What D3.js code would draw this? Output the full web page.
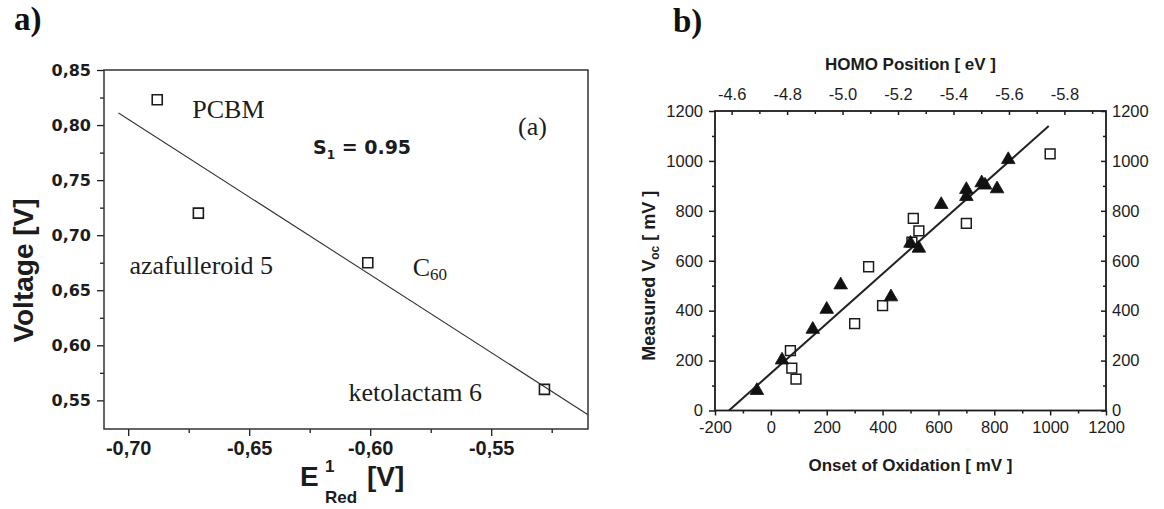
<!DOCTYPE html>
<html>
<head>
<meta charset="utf-8">
<script src="https://cdn.jsdelivr.net/npm/d3@7"></script>
<style>
  html, body { margin: 0; padding: 0; background: #fff; }
  svg { display: block; }
</style>
</head>
<body>
<div id="chart"></div>
<script>
// ---- panel a: Voc vs first reduction potential ----
const compoundNames = ["PCBM", "azafulleroid 5", "C60", "ketolactam 6"];
const reductionPotential = [-0.688, -0.671, -0.601, -0.528];
const openVoltage = [0.823, 0.720, 0.675, 0.560];
const fitAX = [-0.704, -0.51];
const fitAY = [0.811, 0.537];
const ticksAX = [-0.70, -0.65, -0.60, -0.55];
const minorAX = [-0.675, -0.625, -0.575, -0.525];
const ticksAY = [0.55, 0.60, 0.65, 0.70, 0.75, 0.80, 0.85];
const minorAY = [0.575, 0.625, 0.675, 0.725, 0.775, 0.825];

// ---- panel b: measured Voc vs onset of oxidation ----
const triOnset = [-50, 40, 150, 200, 250, 430, 500, 530, 610, 700, 700, 755, 767, 810, 850];
const triVoc = [80, 202, 325, 405, 503, 455, 670, 650, 825, 885, 857, 912, 903, 888, 1005];
const sqOnset = [70, 75, 90, 300, 350, 400, 505, 510, 530, 700, 1000];
const sqVoc = [240, 170, 126, 348, 576, 420, 675, 770, 720, 750, 1028];
const fitBX = [-150, 995];
const fitBY = [0, 1140];
const ticksBX = [-200, 0, 200, 400, 600, 800, 1000, 1200];
const minorBX = [-100, 100, 300, 500, 700, 900, 1100];
const ticksBY = [0, 200, 400, 600, 800, 1000, 1200];
const minorBY = [100, 300, 500, 700, 900, 1100];
const ticksHomo = [-4.6, -4.8, -5.0, -5.2, -5.4, -5.6, -5.8];
const minorHomo = [-4.7, -4.9, -5.1, -5.3, -5.5, -5.7, -5.9];

const WIDTH = 1164;
const HEIGHT = 509;
const INK = "#1c1c1c";

// label placement next to each marker in panel a (pixels from the marker)
const LABEL_OFFSETS = [[35, 18], [-69, 61], [45, 13], [-196, 12]];

const svg = d3.select("#chart")
    .append("svg")
    .attr("width", WIDTH)
    .attr("height", HEIGHT);

function plainAxis(g, width) {
    g.select(".domain").remove();
    g.attr("font-family", null).attr("font-size", null);
    g.selectAll("line").attr("stroke", INK).attr("stroke-width", width);
    g.selectAll("text").attr("fill", INK);
}

function drawPanelA() {
    const x = d3.scaleLinear().domain([-0.71, -0.51]).range([104, 588]);
    const y = d3.scaleLinear().domain([0.524, 0.85]).range([429, 70]);
    const comma = d => d.toFixed(2).replace(".", ",");
    const [x0, x1] = x.range();
    const [y0, y1] = y.range();

    svg.append("g")
        .attr("transform", `translate(${x0},0)`)
        .call(d3.axisLeft(y).tickValues(minorAY).tickSize(4).tickFormat(""))
        .call(g => plainAxis(g, 1.3));

    svg.append("g")
        .attr("transform", `translate(${x0},0)`)
        .call(d3.axisLeft(y).tickValues(ticksAY).tickSize(7).tickPadding(6).tickFormat(comma))
        .call(g => plainAxis(g, 1.3))
        .selectAll("text")
        .attr("font-family", "DejaVu Sans")
        .attr("font-weight", "bold")
        .attr("font-size", 16);

    svg.append("g")
        .attr("transform", `translate(0,${y0})`)
        .call(d3.axisBottom(x).tickValues(minorAX).tickSize(4).tickFormat(""))
        .call(g => plainAxis(g, 1.3));

    svg.append("g")
        .attr("transform", `translate(0,${y0})`)
        .call(d3.axisBottom(x).tickValues(ticksAX).tickSize(7).tickPadding(5).tickFormat(comma))
        .call(g => plainAxis(g, 1.3))
        .selectAll("text")
        .attr("font-family", "Liberation Sans")
        .attr("font-weight", "bold")
        .attr("font-size", 20);

    svg.append("rect")
        .attr("x", x0)
        .attr("y", y1)
        .attr("width", x1 - x0)
        .attr("height", y0 - y1)
        .attr("fill", "none")
        .attr("stroke", "#333")
        .attr("stroke-width", 1.5);

    svg.append("line")
        .attr("x1", x(fitAX[0]))
        .attr("y1", y(fitAY[0]))
        .attr("x2", x(fitAX[1]))
        .attr("y2", y(fitAY[1]))
        .attr("stroke", "#333")
        .attr("stroke-width", 1.1);

    const rows = compoundNames.map((name, i) => ({
        name, e: reductionPotential[i], v: openVoltage[i], off: LABEL_OFFSETS[i]
    }));

    svg.append("g")
        .selectAll("path")
        .data(rows)
        .enter()
        .append("path")
        .attr("transform", d => `translate(${x(d.e)},${y(d.v)})`)
        .attr("d", d3.symbol(d3.symbolSquare, 100))
        .attr("fill", "none")
        .attr("stroke", INK)
        .attr("stroke-width", 1.6);

    const labels = svg.append("g")
        .selectAll("text")
        .data(rows)
        .enter()
        .append("text")
        .attr("x", d => x(d.e) + d.off[0])
        .attr("y", d => y(d.v) + d.off[1])
        .attr("font-family", "Liberation Serif")
        .attr("font-size", 26)
        .attr("fill", INK);

    labels.each(function (d) {
        const m = d.name.match(/^C(\d+)$/);
        const t = d3.select(this);
        if (m) {
            t.append("tspan").text("C");
            t.append("tspan").attr("font-size", 17).attr("dy", 4).text(m[1]);
        } else {
            t.text(d.name);
        }
    });

    svg.append("text")
        .attr("x", x1 - 70)
        .attr("y", y1 + 65)
        .attr("font-family", "Liberation Serif")
        .attr("font-size", 26)
        .attr("fill", INK)
        .text("(a)");

    const s1 = svg.append("text")
        .attr("x", 313)
        .attr("y", y1 + 84)
        .attr("font-family", "DejaVu Sans")
        .attr("font-weight", "bold")
        .attr("font-size", 19)
        .attr("fill", INK);
    s1.append("tspan").text("S");
    s1.append("tspan").attr("font-size", 12).attr("dy", 5).text("1");
    s1.append("tspan").attr("dy", -5).text(" = 0.95");

    // axis titles
    svg.append("text")
        .attr("transform", `translate(33,${(y0 + y1) / 2 + 21}) rotate(-90)`)
        .attr("text-anchor", "middle")
        .attr("font-family", "Liberation Sans")
        .attr("font-weight", "bold")
        .attr("font-size", 28)
        .attr("fill", INK)
        .text("Voltage [V]");

    const cx = (x0 + x1) / 2;
    const title = svg.append("g")
        .attr("font-family", "Liberation Sans")
        .attr("font-weight", "bold")
        .attr("fill", INK);
    title.append("text").attr("x", cx - 46).attr("y", 486).attr("font-size", 28).text("E");
    title.append("text").attr("x", cx - 21).attr("y", 472).attr("font-size", 17).text("1");
    title.append("text").attr("x", cx - 21).attr("y", 503).attr("font-size", 17).text("Red");
    title.append("text").attr("x", cx + 21).attr("y", 486).attr("font-size", 28).text("[V]");

    svg.append("text")
        .attr("x", 14)
        .attr("y", 30)
        .attr("font-family", "Liberation Serif")
        .attr("font-weight", "bold")
        .attr("font-size", 33)
        .attr("fill", "#111")
        .text("a)");
}

function drawPanelB() {
    const x = d3.scaleLinear().domain([-200, 1200]).range([715, 1106]);
    const y = d3.scaleLinear().domain([0, 1200]).range([410.5, 111]);
    const homo = d3.scaleLinear().domain([-4.54, -5.95]).range([715, 1106]);
    const [x0, x1] = x.range();
    const [y0, y1] = y.range();
    const plainNumber = d => String(d);
    const tickFont = g => g.selectAll("text")
        .attr("font-family", "Liberation Sans")
        .attr("font-size", 16.5);

    // left
    svg.append("g").attr("transform", `translate(${x0},0)`)
        .call(d3.axisLeft(y).tickValues(minorBY).tickSize(3).tickFormat(""))
        .call(g => plainAxis(g, 1.5));
    svg.append("g").attr("transform", `translate(${x0},0)`)
        .call(d3.axisLeft(y).tickValues(ticksBY).tickSize(6).tickPadding(6).tickFormat(plainNumber))
        .call(g => plainAxis(g, 1.5))
        .call(tickFont);

    // right
    svg.append("g").attr("transform", `translate(${x1},0)`)
        .call(d3.axisRight(y).tickValues(minorBY).tickSize(-3).tickFormat(""))
        .call(g => plainAxis(g, 1.5));
    svg.append("g").attr("transform", `translate(${x1},0)`)
        .call(d3.axisRight(y).tickValues(ticksBY).tickSize(-5).tickPadding(6).tickFormat(plainNumber))
        .call(g => plainAxis(g, 1.5))
        .call(tickFont);

    // bottom
    svg.append("g").attr("transform", `translate(0,${y0})`)
        .call(d3.axisBottom(x).tickValues(minorBX).tickSize(3).tickFormat(""))
        .call(g => plainAxis(g, 1.5));
    svg.append("g").attr("transform", `translate(0,${y0})`)
        .call(d3.axisBottom(x).tickValues(ticksBX).tickSize(5).tickPadding(6).tickFormat(plainNumber))
        .call(g => plainAxis(g, 1.5))
        .call(tickFont);

    // top (HOMO position)
    svg.append("g").attr("transform", `translate(0,${y1})`)
        .call(d3.axisTop(homo).tickValues(minorHomo).tickSize(-3).tickFormat(""))
        .call(g => plainAxis(g, 1.5));
    svg.append("g").attr("transform", `translate(0,${y1})`)
        .call(d3.axisTop(homo).tickValues(ticksHomo).tickSize(-4).tickPadding(11).tickFormat(d => d.toFixed(1)))
        .call(g => plainAxis(g, 1.5))
        .call(tickFont);

    svg.append("rect")
        .attr("x", x0)
        .attr("y", y1)
        .attr("width", x1 - x0)
        .attr("height", y0 - y1)
        .attr("fill", "none")
        .attr("stroke", INK)
        .attr("stroke-width", 1.8);

    svg.append("line")
        .attr("x1", x(fitBX[0]))
        .attr("y1", y(fitBY[0]))
        .attr("x2", x(fitBX[1]))
        .attr("y2", y(fitBY[1]))
        .attr("stroke", "#222")
        .attr("stroke-width", 2);

    svg.append("g")
        .selectAll("path")
        .data(sqOnset.map((d, i) => [d, sqVoc[i]]))
        .enter()
        .append("path")
        .attr("transform", d => `translate(${x(d[0])},${y(d[1])})`)
        .attr("d", d3.symbol(d3.symbolSquare, 96))
        .attr("fill", "none")
        .attr("stroke", INK)
        .attr("stroke-width", 1.5);

    svg.append("g")
        .selectAll("path")
        .data(triOnset.map((d, i) => [d, triVoc[i]]))
        .enter()
        .append("path")
        .attr("transform", d => `translate(${x(d[0])},${y(d[1])})`)
        .attr("d", d3.symbol(d3.symbolTriangle, 80))
        .attr("fill", "#111")
        .attr("stroke", "#111")
        .attr("stroke-width", 0.8);

    const cx = (x0 + x1) / 2;
    svg.append("text")
        .attr("x", cx)
        .attr("y", 70)
        .attr("text-anchor", "middle")
        .attr("font-family", "Liberation Sans")
        .attr("font-weight", "bold")
        .attr("font-size", 17)
        .attr("fill", INK)
        .text("HOMO Position [ eV ]");

    svg.append("text")
        .attr("x", cx)
        .attr("y", 471)
        .attr("text-anchor", "middle")
        .attr("font-family", "Liberation Sans")
        .attr("font-weight", "bold")
        .attr("font-size", 17)
        .attr("fill", INK)
        .text("Onset of Oxidation [ mV ]");

    const yTitle = svg.append("text")
        .attr("transform", `translate(655,${(y0 + y1) / 2 + 15}) rotate(-90)`)
        .attr("text-anchor", "middle")
        .attr("font-family", "Liberation Sans")
        .attr("font-weight", "bold")
        .attr("font-size", 18)
        .attr("fill", INK);
    yTitle.append("tspan").text("Measured V");
    yTitle.append("tspan").attr("font-size", 12).attr("dy", 4).text("oc");
    yTitle.append("tspan").attr("dy", -4).text(" [ mV ]");

    svg.append("text")
        .attr("x", 673)
        .attr("y", 32)
        .attr("font-family", "Liberation Serif")
        .attr("font-weight", "bold")
        .attr("font-size", 33)
        .attr("fill", "#111")
        .text("b)");
}

drawPanelA();
drawPanelB();
</script>
</body>
</html>
